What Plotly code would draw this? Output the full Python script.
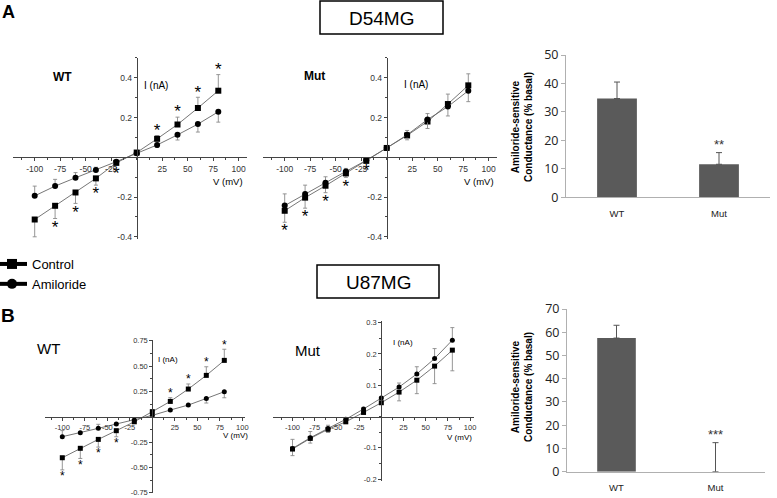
import plotly.graph_objects as go

W, H = 777, 498

# ---------------- data ----------------
V = [-100, -80, -60, -40, -20, 0, 20, 40, 60, 80]
x_tickvals = [-100, -75, -50, -25, 25, 50, 75, 100]
x_ticktext = ["-100", "-75", "-50", "-25", "25", "50", "75", "100"]

# Panel A, WT (D54MG)
a_wt_ctrl = [-0.313, -0.244, -0.177, -0.106, -0.028, 0.024, 0.093, 0.165, 0.248, 0.335]
a_wt_ctrl_up = [0, 0, 0, 0, 0, 0.006, 0.016, 0.037, 0.054, 0.081]
a_wt_ctrl_dn = [0.087, 0.064, 0.055, 0.034, 0.010, 0, 0, 0, 0, 0]
a_wt_amil = [-0.194, -0.145, -0.103, -0.064, -0.022, 0.020, 0.062, 0.113, 0.167, 0.229]
a_wt_amil_up = [0.049, 0.034, 0.026, 0.014, 0.005, 0, 0, 0, 0, 0]
a_wt_amil_dn = [0, 0, 0, 0, 0, 0.004, 0.012, 0.026, 0.040, 0.052]
a_wt_sig = [1, 1, 1, 1, 1, 0, 1, 1, 1, 1]

# Panel A, Mut (D54MG)
a_mut_ctrl = [-0.269, -0.203, -0.143, -0.081, -0.018, 0.047, 0.110, 0.180, 0.268, 0.362]
a_mut_ctrl_up = [0, 0, 0, 0, 0, 0.005, 0.025, 0.040, 0.050, 0.058]
a_mut_ctrl_dn = [0.058, 0.053, 0.035, 0.020, 0.005, 0, 0, 0, 0, 0]
a_mut_amil = [-0.243, -0.184, -0.128, -0.071, -0.015, 0.047, 0.113, 0.190, 0.255, 0.335]
a_mut_amil_up = [0.059, 0.044, 0.030, 0.015, 0.005, 0, 0, 0, 0, 0]
a_mut_amil_dn = [0, 0, 0, 0, 0, 0.005, 0.025, 0.045, 0.047, 0.055]
a_mut_sig = [1, 1, 1, 1, 1, 0, 0, 0, 0, 0]

# Panel B, WT (U87MG)
b_wt_ctrl = [-0.405, -0.312, -0.224, -0.138, -0.050, 0.050, 0.151, 0.273, 0.408, 0.556]
b_wt_ctrl_up = [0, 0, 0, 0, 0, 0.010, 0.037, 0.050, 0.085, 0.110]
b_wt_ctrl_dn = [0.120, 0.100, 0.076, 0.060, 0.010, 0, 0, 0, 0, 0]
b_wt_amil = [-0.197, -0.158, -0.115, -0.072, -0.033, 0.013, 0.066, 0.115, 0.180, 0.247]
b_wt_amil_up = [0.060, 0.012, 0.040, 0.012, 0.005, 0, 0, 0, 0, 0]
b_wt_amil_dn = [0, 0, 0, 0, 0, 0.005, 0.010, 0.012, 0.045, 0.060]
b_wt_sig = [1, 1, 1, 1, 0, 0, 1, 1, 1, 1]

# Panel B, Mut (U87MG)
b_mut_ctrl = [-0.104, -0.070, -0.041, -0.017, 0.013, 0.044, 0.078, 0.116, 0.161, 0.212]
b_mut_ctrl_up = [0, 0, 0, 0, 0, 0, 0, 0, 0, 0]
b_mut_ctrl_dn = [0.021, 0.015, 0.010, 0.005, 0.005, 0.005, 0.028, 0.043, 0.056, 0.066]
b_mut_amil = [-0.102, -0.068, -0.038, -0.009, 0.024, 0.059, 0.094, 0.136, 0.185, 0.244]
b_mut_amil_up = [0.029, 0.020, 0.010, 0.005, 0.005, 0.005, 0.013, 0.023, 0.032, 0.040]
b_mut_amil_dn = [0, 0, 0, 0, 0, 0, 0, 0, 0, 0]
b_mut_sig = [0, 0, 0, 0, 0, 0, 0, 0, 0, 0]

# Bar charts: amiloride-sensitive conductance (% basal)
bar_cats = ["WT", "Mut"]
a_bar_vals = [34.7, 11.6]
a_bar_err = [5.8, 4.1]
a_bar_sig = ["", "**"]
b_bar_vals = [57.5, 0.0]
b_bar_err = [5.5, 12.5]
b_bar_sig = ["", "***"]

# ---------------- helpers ----------------
FONT = "Liberation Sans, Arial, Helvetica, sans-serif"
AXC = "#444444"


def pxx(px):
    return px / W


def pxy(py):
    return 1 - py / H


fig = go.Figure()

iv_panels = [
    dict(n="", ctrl=a_wt_ctrl, cu=a_wt_ctrl_up, cd=a_wt_ctrl_dn, amil=a_wt_amil, au=a_wt_amil_up,
         ad=a_wt_amil_dn, sig=a_wt_sig, ox=136.7, sx=1.02, xr=[-121, 108], oy=157.3, sy=198.75,
         yr=[-0.41, 0.5], yt=[-0.4, -0.2, 0.2, 0.4], ytt=["-0.4", "-0.2", "0.2", "0.4"], ymd=0.1,
         tf=8.5, ms=6, sf=17, sdn=0.05, sup=0.02),
    dict(n="2", ctrl=a_mut_ctrl, cu=a_mut_ctrl_up, cd=a_mut_ctrl_dn, amil=a_mut_amil, au=a_mut_amil_up,
         ad=a_mut_amil_dn, sig=a_mut_sig, ox=386.7, sx=1.02, xr=[-121, 108], oy=157.3, sy=198.75,
         yr=[-0.41, 0.5], yt=[-0.4, -0.2, 0.2, 0.4], ytt=["-0.4", "-0.2", "0.2", "0.4"], ymd=0.1,
         tf=8.5, ms=6, sf=17, sdn=0.05, sup=0.02),
    dict(n="3", ctrl=b_wt_ctrl, cu=b_wt_ctrl_up, cd=b_wt_ctrl_dn, amil=b_wt_amil, au=b_wt_amil_up,
         ad=b_wt_amil_dn, sig=b_wt_sig, ox=152.3, sx=0.9, xr=[-119, 103], oy=416.7, sy=101.3,
         yr=[-0.755, 0.755], yt=[-0.75, -0.5, -0.25, 0.25, 0.5, 0.75],
         ytt=["-0.75", "-0.50", "-0.25", "0.25", "0.50", "0.75"], ymd=0.125,
         tf=7.5, ms=5, sf=12, sdn=0.07, sup=0.035),
    dict(n="4", ctrl=b_mut_ctrl, cu=b_mut_ctrl_up, cd=b_mut_ctrl_dn, amil=b_mut_amil, au=b_mut_amil_up,
         ad=b_mut_amil_dn, sig=b_mut_sig, ox=381.3, sx=0.888, xr=[-122, 104], oy=416.5, sy=313,
         yr=[-0.205, 0.305], yt=[-0.2, -0.1, 0.1, 0.2, 0.3], ytt=["-0.2", "-0.1", "0.1", "0.2", "0.3"],
         ymd=0.05, tf=7.5, ms=5, sf=12, sdn=0.02, sup=0.01),
]

for p in iv_panels:
    xa = "x" + p["n"]
    ya = "y" + p["n"]
    for name, vals, up, dn, sym in [("Control", p["ctrl"], p["cu"], p["cd"], "square"),
                                    ("Amiloride", p["amil"], p["au"], p["ad"], "circle")]:
        fig.add_trace(go.Scatter(
            x=V, y=vals, xaxis=xa, yaxis=ya, mode="lines+markers", name=name, showlegend=False,
            line=dict(color="#666666", width=0.9),
            marker=dict(symbol=sym, size=p["ms"], color="black"),
            error_y=dict(type="data", symmetric=False, array=up, arrayminus=dn,
                         color="#8a8a8a", thickness=0.9, width=2),
            cliponaxis=False,
        ))
    sx_, sy_ = [], []
    for v, c, u, d, s in zip(V, p["ctrl"], p["cu"], p["cd"], p["sig"]):
        if s:
            sx_.append(v)
            if c < 0:
                sy_.append(c - d - p["sdn"])
            else:
                sy_.append(c + u + p["sup"])
    if sx_:
        fig.add_trace(go.Scatter(x=sx_, y=sy_, xaxis=xa, yaxis=ya, mode="text", text=["*"] * len(sx_),
                                 textfont=dict(size=p["sf"], color="black", family=FONT),
                                 showlegend=False, hoverinfo="skip", cliponaxis=False))

    x0 = p["ox"] + p["xr"][0] * p["sx"]
    x1 = p["ox"] + p["xr"][1] * p["sx"]
    ybot = p["oy"] - p["yr"][0] * p["sy"]
    ytop = p["oy"] - p["yr"][1] * p["sy"]
    fig.layout["xaxis" + p["n"]] = dict(
        domain=[pxx(x0), pxx(x1)], range=p["xr"], anchor="free", position=pxy(p["oy"]),
        automargin=False,
        showline=True, linecolor=AXC, linewidth=1, showgrid=False, zeroline=False,
        tickmode="array", tickvals=x_tickvals, ticktext=x_ticktext, ticks="outside", ticklen=3,
        tickcolor=AXC, tickfont=dict(size=p["tf"], color="#333", family=FONT),
        minor=dict(ticks="outside", ticklen=2, tickmode="linear", tick0=0, dtick=12.5, tickcolor=AXC),
    )
    fig.layout["yaxis" + p["n"]] = dict(
        domain=[pxy(ybot), pxy(ytop)], range=p["yr"], anchor="free", position=pxx(p["ox"]),
        automargin=False,
        showline=True, linecolor=AXC, linewidth=1, showgrid=False, zeroline=False,
        tickmode="array", tickvals=p["yt"], ticktext=p["ytt"], ticks="outside", ticklen=3,
        tickcolor=AXC, tickfont=dict(size=p["tf"], color="#333", family=FONT),
        minor=dict(ticks="outside", ticklen=2, tickmode="linear", tick0=0, dtick=p["ymd"], tickcolor=AXC),
    )

# legend-only traces
fig.add_trace(go.Scatter(x=[None], y=[None], mode="lines+markers", name="Control",
                         line=dict(color="black", width=4),
                         marker=dict(symbol="square", size=10, color="black")))
fig.add_trace(go.Scatter(x=[None], y=[None], mode="lines+markers", name="Amiloride",
                         line=dict(color="black", width=4),
                         marker=dict(symbol="circle", size=10, color="black")))

# ---------------- bar charts ----------------
bar_specs = [
    dict(n="5", vals=a_bar_vals, err=a_bar_err, sig=a_bar_sig, x0=566, x1=770, y0=197.3, y1=55,
         yr=[0, 50], gap=0.3),
    dict(n="6", vals=b_bar_vals, err=b_bar_err, sig=b_bar_sig, x0=567, x1=765, y0=471.7, y1=309,
         yr=[0, 70], gap=0.3),
]
for b in bar_specs:
    xa = "x" + b["n"]
    ya = "y" + b["n"]
    fig.add_trace(go.Bar(
        x=bar_cats, y=b["vals"], xaxis=xa, yaxis=ya, width=0.39, marker=dict(color="#5a5a5a", line=dict(width=0)),
        error_y=dict(type="data", symmetric=False, array=b["err"], arrayminus=[0, 0],
                     color="#555555", thickness=1, width=3),
        showlegend=False,
    ))
    fig.add_trace(go.Scatter(
        x=bar_cats, y=[v + e + b["gap"] for v, e in zip(b["vals"], b["err"])], xaxis=xa, yaxis=ya,
        mode="text", text=b["sig"], textposition="top center",
        textfont=dict(size=13, color="#333", family=FONT), showlegend=False, cliponaxis=False,
    ))
    fig.layout["xaxis" + b["n"]] = dict(
        domain=[pxx(b["x0"]), pxx(b["x1"])], range=[-0.5, 1.5], anchor=ya, type="category",
        automargin=False,
        showline=True, linecolor="#b0b0b0", linewidth=1, showgrid=False, zeroline=False,
        ticks="outside", ticklen=7, tickcolor="rgba(0,0,0,0)",
        tickfont=dict(size=9.5, color="#222", family=FONT),
    )
    fig.layout["yaxis" + b["n"]] = dict(
        domain=[pxy(b["y0"]), pxy(b["y1"])], range=b["yr"], anchor=xa,
        automargin=False,
        showline=True, linecolor="#b0b0b0", linewidth=1, showgrid=False, zeroline=False,
        tickmode="linear", tick0=0, dtick=10, ticks="outside", ticklen=4, tickcolor="#b0b0b0",
        tickfont=dict(size=12.5, color="#222", family="Open Sans, sans-serif"),
    )

# ---------------- annotations ----------------
ann = []


def txt(x, y, s, size, bold=False, angle=0, xanchor="center"):
    ann.append(dict(x=pxx(x), y=pxy(y), xref="paper", yref="paper", text=("<b>%s</b>" % s) if bold else s,
                    showarrow=False, xanchor=xanchor, yanchor="middle", textangle=angle,
                    font=dict(size=size, color="black", family=FONT)))


txt(8, 12, "A", 18, bold=True)
txt(8, 315, "B", 19, bold=True)
txt(381, 18, "D54MG", 19)
txt(378, 282, "U87MG", 19)

txt(62, 77, "WT", 12, bold=True)
txt(314, 76, "Mut", 12, bold=True)
txt(156, 85, "I (nA)", 10)
txt(228, 181, "V (mV)", 9.5)
txt(416, 84, "I (nA)", 10)
txt(479, 181, "V (mV)", 9.5)

txt(48, 348, "WT", 15)
txt(308, 350, "Mut", 15)
txt(168, 359, "I (nA)", 8)
txt(235, 435, "V (mV)", 8)
txt(403, 342, "I (nA)", 8)
txt(459, 437, "V (mV)", 8)

txt(522, 127, "Amiloride-sensitive<br>Conductance (% basal)", 10, bold=True, angle=-90)
txt(522, 387, "Amiloride-sensitive<br>Conductance (% basal)", 10, bold=True, angle=-90)

shapes = [
    dict(type="rect", xref="paper", yref="paper", x0=pxx(320), x1=pxx(443), y0=pxy(34), y1=pxy(1),
         line=dict(color="black", width=1.5)),
    dict(type="rect", xref="paper", yref="paper", x0=pxx(317), x1=pxx(439), y0=pxy(298), y1=pxy(265),
         line=dict(color="black", width=1.5)),
]

fig.update_layout(
    width=W, height=H, margin=dict(l=0, r=0, t=0, b=0, autoexpand=False),
    paper_bgcolor="white", plot_bgcolor="white",
    font=dict(family=FONT, color="black"),
    annotations=ann, shapes=shapes,
    showlegend=True,
    legend=dict(x=0, y=pxy(249), xanchor="left", yanchor="top", bgcolor="rgba(0,0,0,0)",
                font=dict(size=13, family=FONT, color="black"), itemwidth=30, tracegroupgap=0,
                indentation=-8, borderwidth=0),
)

fig.write_html("out.html", config={"displayModeBar": False},
               post_script="document.body.style.margin='0';document.body.style.padding='0';"
                           "document.body.style.overflow='hidden';")
